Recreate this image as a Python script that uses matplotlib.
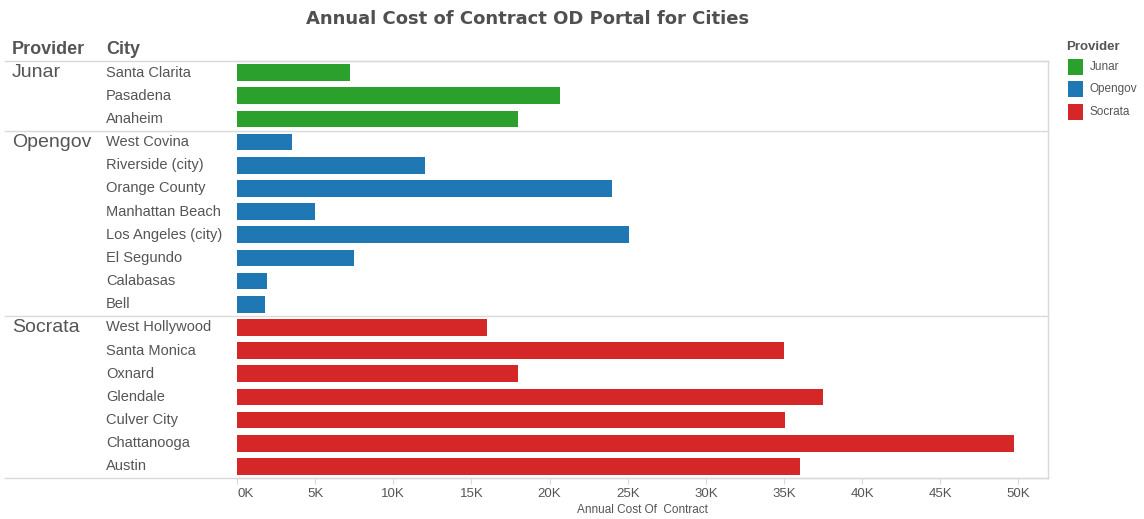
import matplotlib
matplotlib.use("Agg")
import matplotlib.pyplot as plt
from matplotlib.transforms import blended_transform_factory
from matplotlib.lines import Line2D
from matplotlib.patches import Rectangle

providers = ["Junar", "Opengov", "Socrata"]
provider_colors = ["#2ca02c", "#1f77b4", "#d62728"]
junar_cities = ["Santa Clarita", "Pasadena", "Anaheim"]
junar_costs = [7200, 20700, 18000]
opengov_cities = ["West Covina", "Riverside (city)", "Orange County", "Manhattan Beach",
                  "Los Angeles (city)", "El Segundo", "Calabasas", "Bell"]
opengov_costs = [3500, 12000, 24000, 5000, 25100, 7500, 1900, 1800]
socrata_cities = ["West Hollywood", "Santa Monica", "Oxnard", "Glendale",
                  "Culver City", "Chattanooga", "Austin"]
socrata_costs = [16000, 35000, 18000, 37500, 35100, 49700, 36000]
xticks = [0, 5000, 10000, 15000, 20000, 25000, 30000, 35000, 40000, 45000, 50000]
xtick_labels = ["0K", "5K", "10K", "15K", "20K", "25K", "30K", "35K", "40K", "45K", "50K"]

groups = [junar_cities, opengov_cities, socrata_cities]
values = [junar_costs, opengov_costs, socrata_costs]

W, H = 1144, 519
fig = plt.figure(figsize=(W / 100, H / 100), dpi=100)
fig.patch.set_facecolor("white")

L, R, T, B = 237, 1048, 61, 478
ax = fig.add_axes([L / W, 1 - B / H, (R - L) / W, (B - T) / H])

FONT = "Liberation Sans"
TXT = "#555555"
LINE = "#d9d9d9"

n_rows = sum(len(g) for g in groups)
ax.set_ylim(n_rows, 0)
ax.set_xlim(0, 51900)

row = 0
for prov, color, cities, costs in zip(providers, provider_colors, groups, values):
    ys = [row + i + 0.5 for i in range(len(cities))]
    ax.barh(ys, costs, height=0.72, color=color, edgecolor="none", zorder=2)
    row += len(cities)

ax.spines["left"].set_visible(False)
for s in ["top", "right", "bottom"]:
    ax.spines[s].set_color(LINE)
    ax.spines[s].set_linewidth(1.0)

ax.set_yticks([])
ax.set_xticks(xticks)
ax.set_xticklabels(xtick_labels, fontsize=9.5, color=TXT, family=FONT)
ax.get_xticklabels()[0].set_horizontalalignment("left")
ax.tick_params(axis="x", length=4, color=LINE, pad=3)
ax.set_xlabel("Annual Cost Of  Contract", fontsize=8.5, color=TXT, family=FONT, labelpad=3)

bt = blended_transform_factory(fig.transFigure, ax.transData)
row = 0
for gi, (prov, cities) in enumerate(zip(providers, groups)):
    if gi > 0:
        ax.add_line(Line2D([5 / W, R / W], [row, row], transform=bt, color=LINE,
                           lw=1.0, clip_on=False, zorder=3))
    ax.text(12 / W, row + 0.5, prov, transform=bt, fontsize=14, color=TXT,
            family=FONT, va="center", ha="left", clip_on=False)
    for i, c in enumerate(cities):
        ax.text(106 / W, row + i + 0.5, c, transform=bt, fontsize=10.5, color=TXT,
                family=FONT, va="center", ha="left", clip_on=False)
    row += len(cities)

ax.add_line(Line2D([5 / W, R / W], [0, 0], transform=bt, color=LINE, lw=1.0,
                   clip_on=False, zorder=3))
ax.add_line(Line2D([5 / W, R / W], [n_rows, n_rows], transform=bt, color=LINE, lw=1.0,
                   clip_on=False, zorder=3))

fig.text(12 / W, 1 - 50 / H, "Provider", fontsize=13, fontweight="bold", color=TXT,
         family=FONT, va="center", ha="left")
fig.text(106 / W, 1 - 50 / H, "City", fontsize=13, fontweight="bold", color=TXT,
         family=FONT, va="center", ha="left")

fig.text(528 / W, 1 - 19 / H, "Annual Cost of Contract OD Portal for Cities",
         fontsize=13, fontweight="bold", color="#505050", family="DejaVu Sans",
         va="center", ha="center")

fig.text(1066 / W, 1 - 47 / H, "Provider", fontsize=9.5, fontweight="bold", color=TXT,
         family=FONT, va="center", ha="left")
leg_y = [67, 89, 112]
for prov, color, y in zip(providers, provider_colors, leg_y):
    fig.patches.append(Rectangle((1068 / W, 1 - (y + 7.5) / H), 15 / W, 15 / H,
                                 transform=fig.transFigure, facecolor=color,
                                 edgecolor="none"))
    fig.text(1090 / W, 1 - y / H, prov, fontsize=8.5, color=TXT, family=FONT,
             va="center", ha="left")

fig.savefig("out.png", dpi=100, facecolor="white")
